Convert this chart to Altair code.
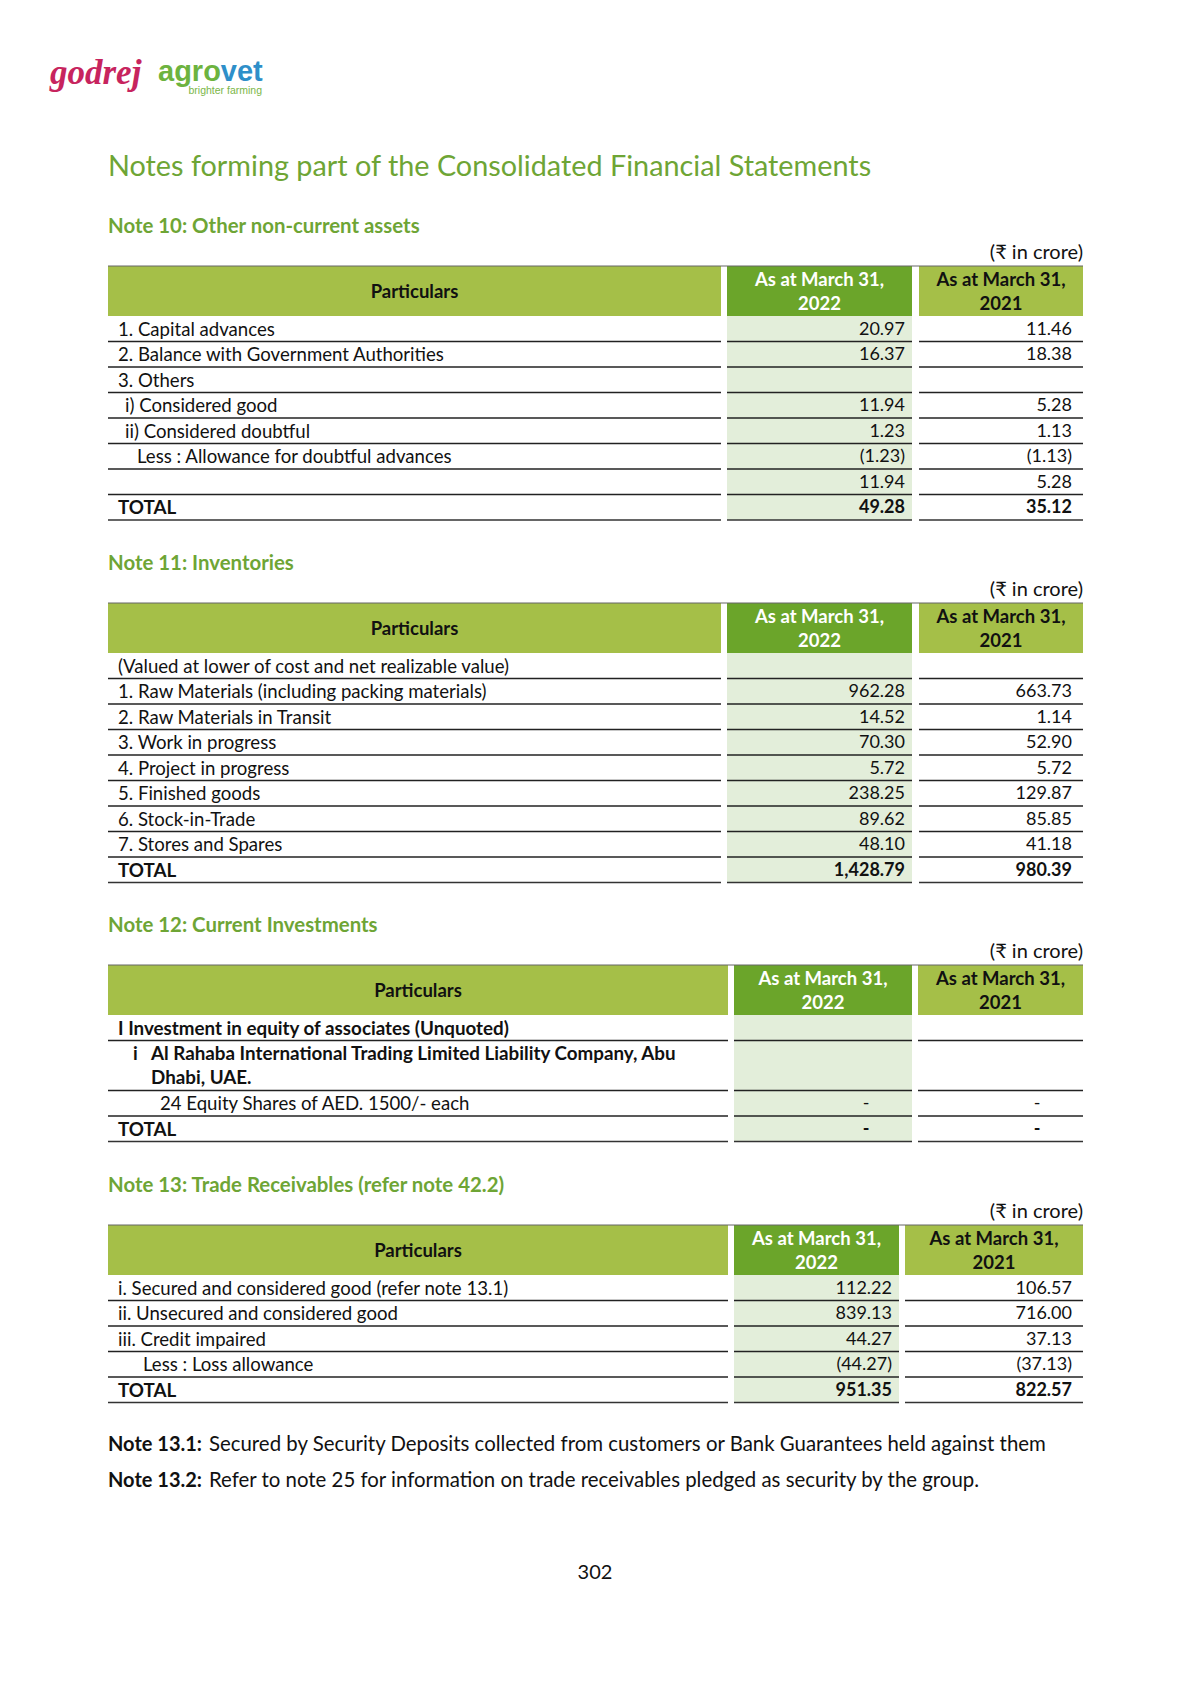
import altair as alt
import pandas as pd

# ---------------- data ----------------
title_text = "Notes forming part of the Consolidated Financial Statements"
unit_text = "(₹ in crore)"
head_particulars = "Particulars"
head_2022 = ["As at March 31,", "2022"]
head_2021 = ["As at March 31,", "2021"]

n10_title = "Note 10: Other non-current assets"
n10_labels = ["1. Capital advances", "2. Balance with Government Authorities", "3. Others",
              "i) Considered good", "ii) Considered doubtful",
              "Less : Allowance for doubtful advances", "", "TOTAL"]
n10_levels = [0, 0, 0, 1, 1, 2, 0, 0]
n10_bold = [False, False, False, False, False, False, False, True]
n10_2022 = [20.97, 16.37, None, 11.94, 1.23, -1.23, 11.94, 49.28]
n10_2021 = [11.46, 18.38, None, 5.28, 1.13, -1.13, 5.28, 35.12]

n11_title = "Note 11: Inventories"
n11_labels = ["(Valued at lower of cost and net realizable value)",
              "1. Raw Materials (including packing materials)",
              "2. Raw Materials in Transit", "3. Work in progress",
              "4. Project in progress", "5. Finished goods", "6. Stock-in-Trade",
              "7. Stores and Spares", "TOTAL"]
n11_levels = [0, 0, 0, 0, 0, 0, 0, 0, 0]
n11_bold = [False] * 8 + [True]
n11_2022 = [None, 962.28, 14.52, 70.30, 5.72, 238.25, 89.62, 48.10, 1428.79]
n11_2021 = [None, 663.73, 1.14, 52.90, 5.72, 129.87, 85.85, 41.18, 980.39]

n12_title = "Note 12: Current Investments"
n12_labels = ["I Investment in equity of associates (Unquoted)",
              "Al Rahaba International Trading Limited Liability Company, Abu|Dhabi, UAE.",
              "24 Equity Shares of AED. 1500/- each", "TOTAL"]
n12_markers = ["", "i", "", ""]
n12_levels = [0, 4, 5, 0]
n12_bold = [True, True, False, True]
n12_2022 = [None, None, "-", "-"]
n12_2021 = [None, None, "-", "-"]

n13_title = "Note 13: Trade Receivables (refer note 42.2)"
n13_labels = ["i.  Secured and considered good (refer note 13.1)",
              "ii. Unsecured and considered good", "iii. Credit impaired",
              "Less : Loss allowance", "TOTAL"]
n13_levels = [0, 0, 0, 3, 0]
n13_bold = [False, False, False, False, True]
n13_2022 = [112.22, 839.13, 44.27, -44.27, 951.35]
n13_2021 = [106.57, 716.00, 37.13, -37.13, 822.57]

foot_bold = ["Note 13.1:", "Note 13.2:"]
foot_text = ["Secured by Security Deposits collected from customers or Bank Guarantees held against them",
             "Refer to note 25 for information on trade receivables pledged as security by the group."]
page_no = "302"

# ---------------- style ----------------
FONT = "Lato, 'Noto Sans', 'DejaVu Sans', sans-serif"
GREEN_TXT = "#6EA535"
HEAD_LIGHT = "#A5BF48"
HEAD_DARK = "#6BA52A"
CELL_FILL = "#E3EEDA"
INK = "#111111"
NUMF = 18
LABF = 18.6
LABF_B = 18.8
HEADF = 18.5
ROW_H = 25.5
HEAD_H = 50
INDENT = {0: 10, 1: 17, 2: 29, 3: 35, 4: 43, 5: 52}

texts, rects, rules = [], [], []


def T(x, y, s, size=NUMF, color=INK, align="left", weight="normal", font=FONT, style="normal"):
    texts.append(dict(x=x, y=y, t=s, size=size, color=color, align=align,
                      weight=weight, font=font, style=style))


def fmt(v):
    if v is None:
        return ""
    if isinstance(v, str):
        return v
    s = f"{abs(v):,.2f}"
    return f"({s})" if v < 0 else s


def table(title, title_y, top, cols, labels, levels, bold, v22, v21, markers=None):
    T(cols[0][0], title_y, title, size=20.4, color=GREEN_TXT, weight="bold")
    T(cols[2][1], top - 13, unit_text, size=20, align="right")
    # header
    for i, (a, b) in enumerate(cols):
        rects.append(dict(x=a, x2=b, y=top, y2=top + HEAD_H, c=HEAD_DARK if i == 1 else HEAD_LIGHT))
    rules.append(dict(x=cols[0][0], x2=cols[2][1], y=top, c="#666666", w=1))
    hc = top + HEAD_H / 2
    T((cols[0][0] + cols[0][1]) / 2, hc + 1, head_particulars, align="center", weight="bold", size=HEADF)
    for i, lines in ((1, head_2022), (2, head_2021)):
        cx = (cols[i][0] + cols[i][1]) / 2
        col = "white" if i == 1 else INK
        T(cx, hc - 11, lines[0], align="center", weight="bold", color=col, size=HEADF)
        T(cx, hc + 13, lines[1], align="center", weight="bold", color=col, size=HEADF)
    # body
    y = top + HEAD_H
    heights = [2 * ROW_H - 1 if "|" in lab else ROW_H for lab in labels]
    total_h = sum(heights)
    rects.append(dict(x=cols[1][0], x2=cols[1][1], y=y, y2=y + total_h, c=CELL_FILL))
    for k, lab in enumerate(labels):
        h = heights[k]
        cy = y + h / 2 + 1
        w = "bold" if bold[k] else "normal"
        ls = LABF_B if bold[k] else LABF
        lx = cols[0][0] + INDENT[levels[k]]
        parts = lab.split("|")
        if len(parts) == 1:
            T(lx, cy, lab, weight=w, size=ls)
        else:
            for j, p in enumerate(parts):
                T(lx, y + 13.5 + j * 24, p, weight=w, size=ls)
        if markers and markers[k]:
            T(cols[0][0] + 25, y + 13.5, markers[k], weight=w, size=ls)
        for ci, vals, pad in ((1, v22, 7), (2, v21, 11)):
            s = fmt(vals[k])
            if s == "-":
                T(cols[ci][1] - 46, cy, s, weight=w, align="center")
            elif s:
                T(cols[ci][1] - pad, cy, s, weight=w, align="right")
        y += h
        last = k == len(labels) - 1
        for (a, b) in cols:
            rules.append(dict(x=a, x2=b, y=y, c="#222222" if not last else "#333333",
                              w=1.3 if not last else 1.6))


C1 = [(108, 721), (727, 912), (919, 1083)]
C3 = [(108, 728), (734, 912), (918, 1083)]
C4 = [(108, 728), (734, 899), (905, 1083)]

# page header / logo
T(50, 73, "godrej", size=35, color="#C7245E", weight="bold", style="italic",
  font="'Liberation Serif', serif")
T(158, 72, "agro", size=29, color="#6DB33F", weight="bold", font="'Liberation Sans', Arial")
T(158 + 2.167 * 29, 72, "vet", size=29, color="#2E8FC9", weight="bold", font="'Liberation Sans', Arial")
T(262, 91, "brighter farming", size=10.5, color="#7AB648", align="right",
  font="'Liberation Sans', Arial")
T(108, 167, title_text, size=28.8, color=GREEN_TXT)

table(n10_title, 227, 266, C1, n10_labels, n10_levels, n10_bold, n10_2022, n10_2021)
table(n11_title, 564, 603, C1, n11_labels, n11_levels, n11_bold, n11_2022, n11_2021)
table(n12_title, 926, 965, C3, n12_labels, n12_levels, n12_bold, n12_2022, n12_2021,
      markers=n12_markers)
table(n13_title, 1186, 1225, C4, n13_labels, n13_levels, n13_bold, n13_2022, n13_2021)

for i, (b, t) in enumerate(zip(foot_bold, foot_text)):
    yy = 1445 + i * 36
    T(108, yy, b, size=20, weight="bold")
    T(209, yy, t, size=20.4)
T(595, 1573, page_no, size=20, align="center")

# ---------------- chart ----------------
W, H = 1175, 1660
xs = alt.Scale(domain=[8, 8 + W], nice=False, zero=False)
ys = alt.Scale(domain=[8, 8 + H], nice=False, zero=False, reverse=True)

rect_df = pd.DataFrame(rects)
rule_df = pd.DataFrame(rules)
text_df = pd.DataFrame(texts)

layers = [
    alt.Chart(rect_df).mark_rect().encode(
        x=alt.X("x:Q", scale=xs, axis=None), x2="x2:Q",
        y=alt.Y("y:Q", scale=ys, axis=None), y2="y2:Q",
        color=alt.Color("c:N", scale=None)),
    alt.Chart(rule_df).mark_rule().encode(
        x=alt.X("x:Q", scale=xs, axis=None), x2="x2:Q",
        y=alt.Y("y:Q", scale=ys, axis=None),
        color=alt.Color("c:N", scale=None),
        strokeWidth=alt.StrokeWidth("w:Q", scale=None)),
]

for (al, wt, fn, st), g in text_df.groupby(["align", "weight", "font", "style"]):
    layers.append(
        alt.Chart(g).mark_text(align=al, baseline="middle", fontWeight=wt, font=fn, fontStyle=st).encode(
            x=alt.X("x:Q", scale=xs, axis=None),
            y=alt.Y("y:Q", scale=ys, axis=None),
            text="t:N",
            size=alt.Size("size:Q", scale=None),
            color=alt.Color("color:N", scale=None)))

chart = alt.layer(*layers).properties(width=W, height=H, padding=0).configure_view(stroke=None)
chart.save("out.html", embed_options={"renderer": "svg", "actions": False})
